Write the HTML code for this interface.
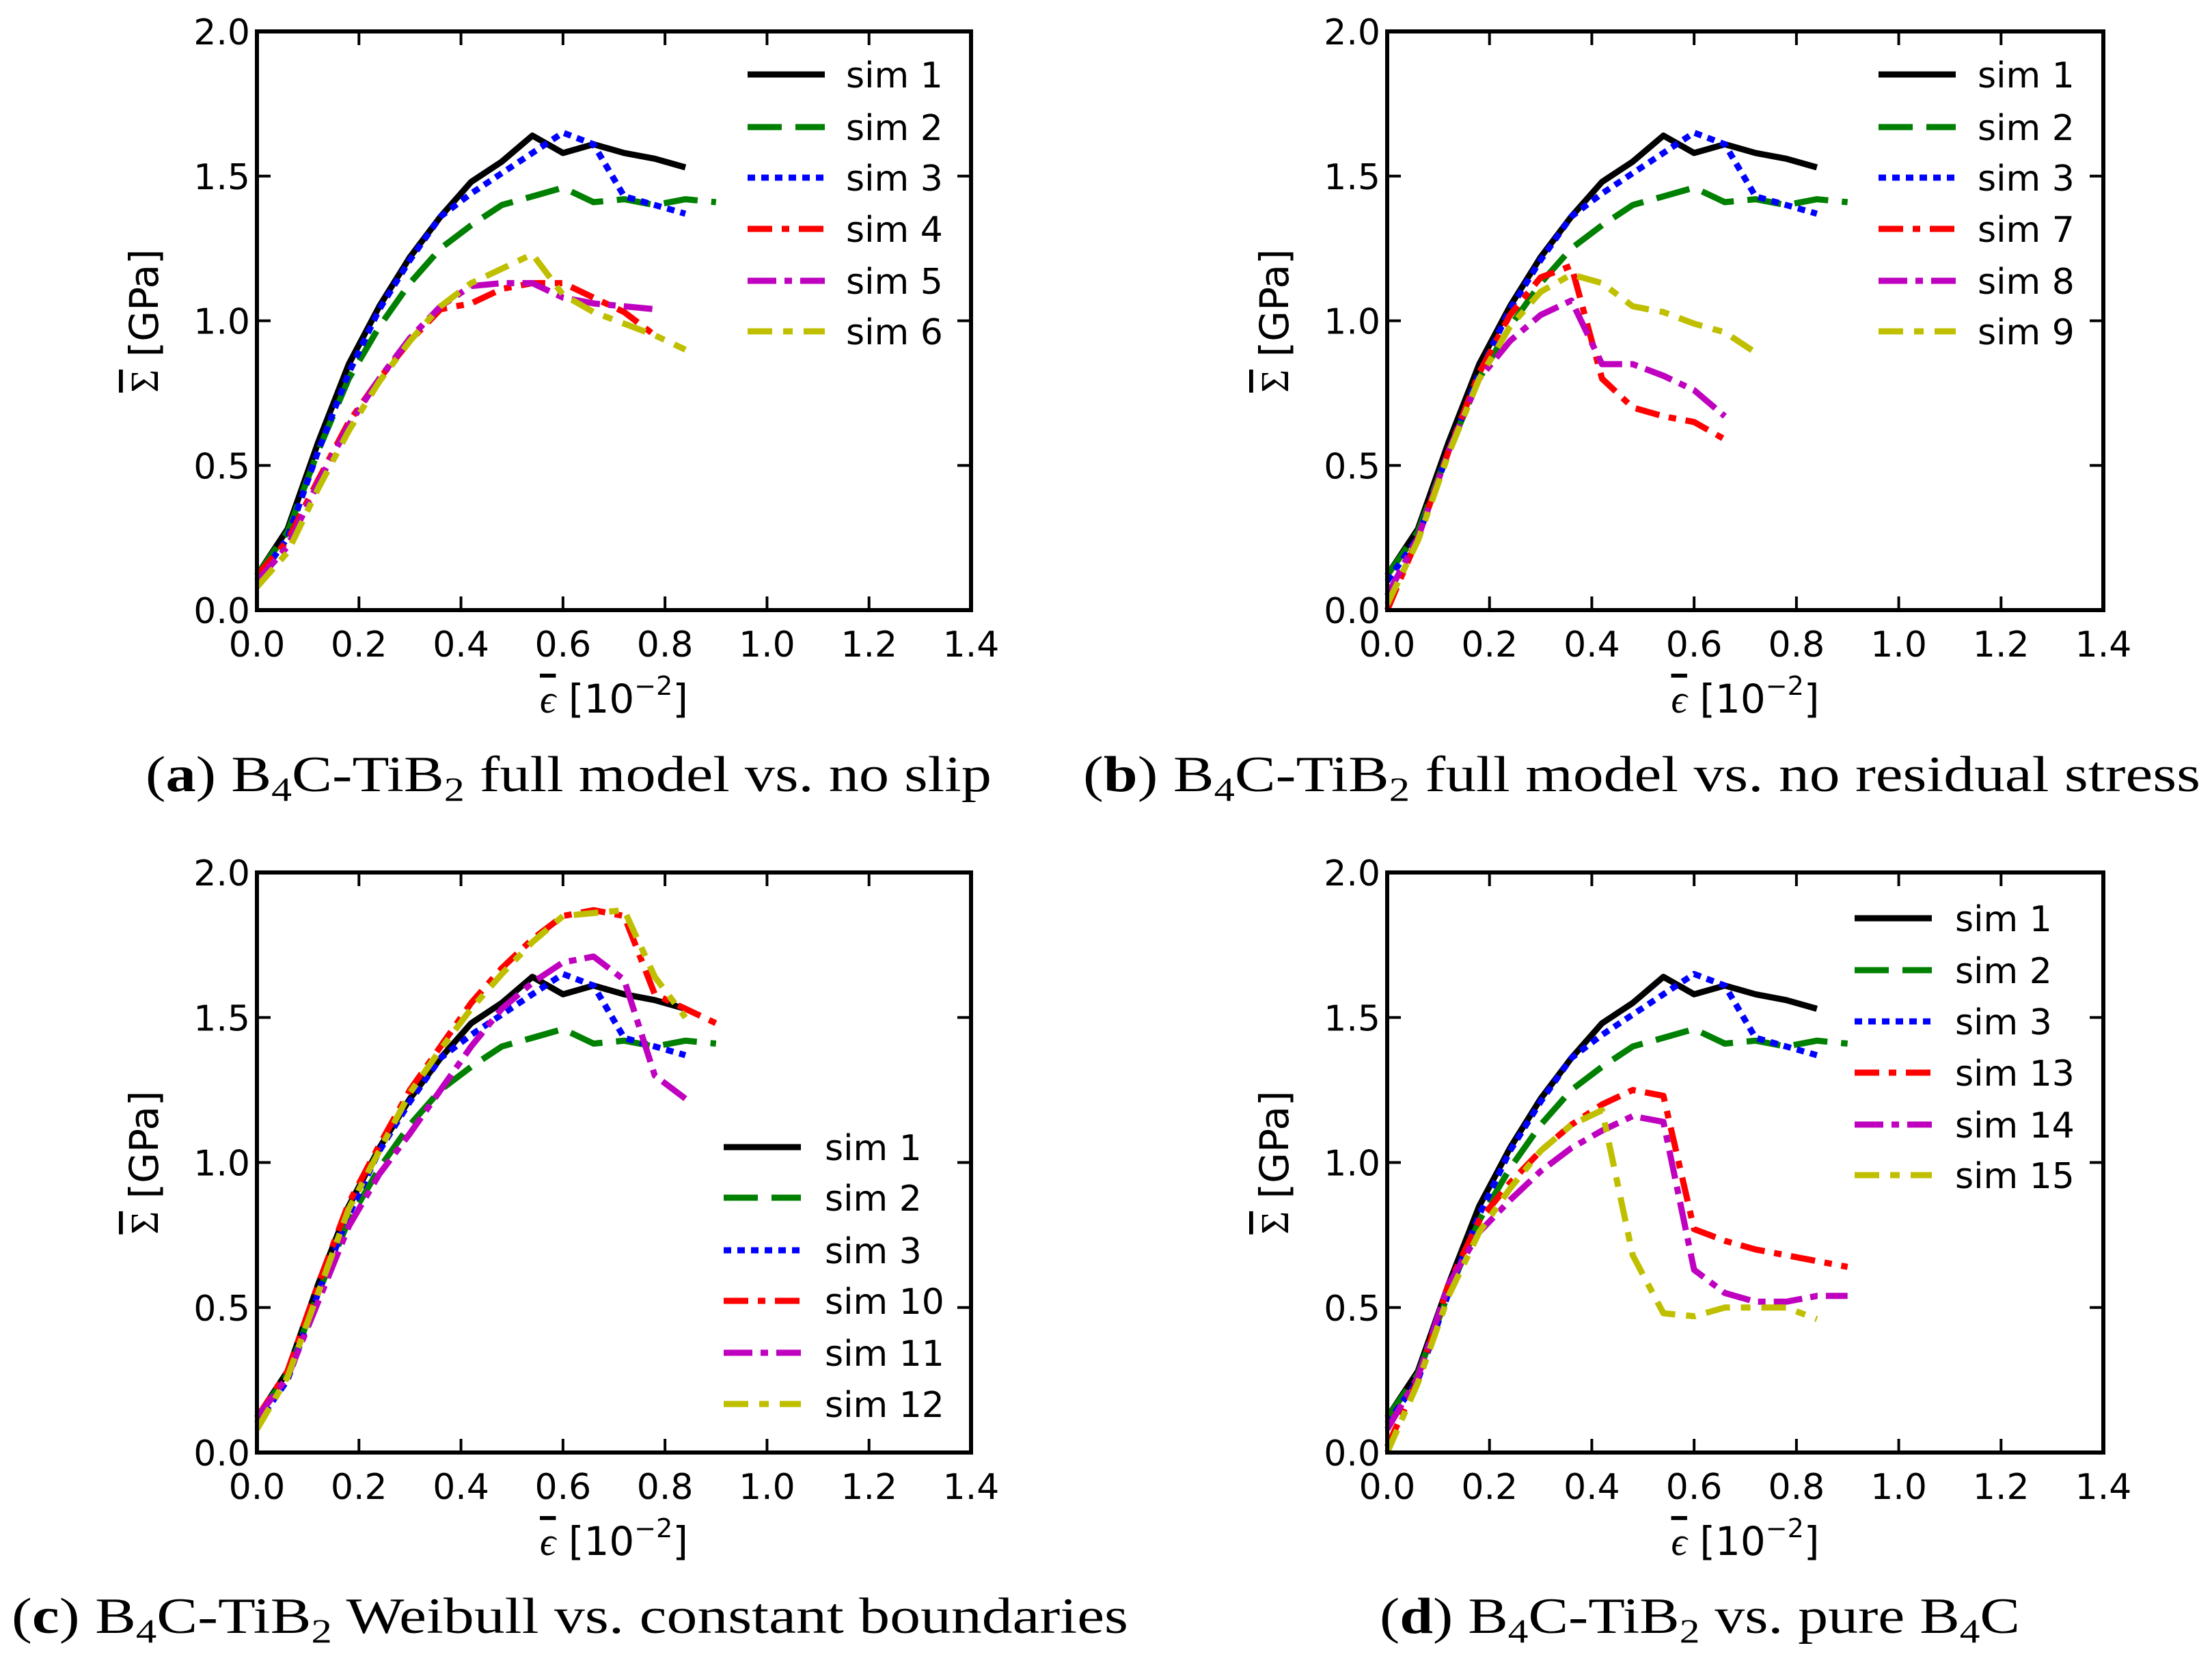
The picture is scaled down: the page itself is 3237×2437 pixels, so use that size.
<!DOCTYPE html>
<html><head><meta charset="utf-8"><style>
html,body{margin:0;padding:0;background:#fff;}
svg{display:block;}
text{font-family:"DejaVu Sans","Liberation Sans",sans-serif;}
.cap{font-family:"Liberation Serif",serif;font-size:74px;}
</style></head><body>
<svg id="fig" width="3237" height="2437" viewBox="0 0 3237 2437" xmlns="http://www.w3.org/2000/svg">
<text class="cap" x="213" y="1158" textLength="1238" lengthAdjust="spacingAndGlyphs">(<tspan font-weight="bold">a</tspan>) B<tspan font-size="50" dy="14">4</tspan><tspan dy="-14">C-TiB</tspan><tspan font-size="50" dy="14">2</tspan><tspan dy="-14"> full model vs. no slip</tspan></text>
<text class="cap" x="1585" y="1158" textLength="1635" lengthAdjust="spacingAndGlyphs">(<tspan font-weight="bold">b</tspan>) B<tspan font-size="50" dy="14">4</tspan><tspan dy="-14">C-TiB</tspan><tspan font-size="50" dy="14">2</tspan><tspan dy="-14"> full model vs. no residual stress</tspan></text>
<text class="cap" x="17" y="2390" textLength="1634" lengthAdjust="spacingAndGlyphs">(<tspan font-weight="bold">c</tspan>) B<tspan font-size="50" dy="14">4</tspan><tspan dy="-14">C-TiB</tspan><tspan font-size="50" dy="14">2</tspan><tspan dy="-14"> Weibull vs. constant boundaries</tspan></text>
<text class="cap" x="2019" y="2390" textLength="937" lengthAdjust="spacingAndGlyphs">(<tspan font-weight="bold">d</tspan>) B<tspan font-size="50" dy="14">4</tspan><tspan dy="-14">C-TiB</tspan><tspan font-size="50" dy="14">2</tspan><tspan dy="-14"> vs. pure B</tspan><tspan font-size="50" dy="14">4</tspan><tspan dy="-14">C</tspan></text>
</svg>
<script>
const strain = [0,0.06,0.12,0.18,0.24,0.30,0.36,0.42,0.48,0.54,0.60,0.66,0.72,0.78,0.84,0.90];
const xTicks = [0.0,0.2,0.4,0.6,0.8,1.0,1.2,1.4];
const xTickLabels = ["0.0","0.2","0.4","0.6","0.8","1.0","1.2","1.4"];
const yTicks = [0.0,0.5,1.0,1.5,2.0];
const yTickLabels = ["0.0","0.5","1.0","1.5","2.0"];
const sim1 = [0.12,0.28,0.58,0.85,1.05,1.22,1.36,1.48,1.55,1.64,1.58,1.61,1.58,1.56,1.53];
const sim2 = [0.12,0.27,0.55,0.80,0.98,1.13,1.25,1.33,1.40,1.43,1.46,1.41,1.42,1.40,1.42,1.41];
const sim3 = [0.10,0.25,0.55,0.82,1.04,1.21,1.36,1.44,1.51,1.58,1.65,1.61,1.43,1.40,1.37];
const sim4 = [0.12,0.24,0.45,0.65,0.80,0.93,1.04,1.06,1.11,1.13,1.13,1.08,1.03,0.95];
const sim5 = [0.10,0.22,0.44,0.64,0.80,0.94,1.05,1.12,1.13,1.13,1.08,1.06,1.05,1.04];
const sim6 = [0.08,0.20,0.42,0.62,0.79,0.93,1.05,1.13,1.18,1.23,1.09,1.03,0.99,0.95,0.90];
const sim7 = [0.00,0.25,0.55,0.82,1.02,1.15,1.19,0.80,0.70,0.67,0.65,0.59];
const sim8 = [0.05,0.25,0.55,0.80,0.93,1.02,1.07,0.85,0.85,0.81,0.76,0.67];
const sim9 = [0.02,0.24,0.54,0.80,0.98,1.10,1.16,1.13,1.05,1.03,0.99,0.96,0.89];
const sim10 = [0.12,0.28,0.58,0.86,1.06,1.25,1.40,1.55,1.67,1.77,1.85,1.87,1.85,1.58,1.53,1.48];
const sim11 = [0.12,0.26,0.52,0.78,0.96,1.10,1.25,1.40,1.53,1.62,1.69,1.71,1.63,1.30,1.22];
const sim12 = [0.08,0.26,0.55,0.84,1.04,1.24,1.39,1.53,1.65,1.76,1.85,1.86,1.87,1.64,1.50];
const sim13 = [0.02,0.25,0.58,0.80,0.93,1.04,1.13,1.20,1.25,1.23,0.77,0.73,0.70,0.68,0.66,0.64];
const sim14 = [0.08,0.26,0.58,0.76,0.87,0.97,1.05,1.11,1.16,1.14,0.63,0.55,0.52,0.52,0.54,0.54];
const sim15 = [0.00,0.24,0.54,0.76,0.91,1.04,1.13,1.18,0.68,0.48,0.47,0.50,0.50,0.50,0.46];

const NS="http://www.w3.org/2000/svg";
const svg=document.getElementById('fig');
function mk(tag,attrs,parent){const e=document.createElementNS(NS,tag);for(const k in attrs)e.setAttribute(k,attrs[k]);(parent||svg).appendChild(e);return e;}
const styles={
 sim1:{c:"#000000",d:""}, sim2:{c:"#008000",d:"50 20"}, sim3:{c:"#0000ff",d:"11 9"},
 sim4:{c:"#ff0000",d:"36 14 11 14"}, sim5:{c:"#bf00bf",d:"42 12 11 12"}, sim6:{c:"#bfbf00",d:"36 16 14 16"},
 sim7:{c:"#ff0000",d:"36 14 11 14"}, sim8:{c:"#bf00bf",d:"42 12 11 12"}, sim9:{c:"#bfbf00",d:"36 16 14 16"},
 sim10:{c:"#ff0000",d:"36 14 11 14"}, sim11:{c:"#bf00bf",d:"42 12 11 12"}, sim12:{c:"#bfbf00",d:"36 16 14 16"},
 sim13:{c:"#ff0000",d:"36 14 11 14"}, sim14:{c:"#bf00bf",d:"42 12 11 12"}, sim15:{c:"#bfbf00",d:"36 16 14 16"}
};
const data={sim1,sim2,sim3,sim4,sim5,sim6,sim7,sim8,sim9,sim10,sim11,sim12,sim13,sim14,sim15};
const panels=[
 {id:"a",L:376,R:1421,T:46,B:893,sims:["sim1","sim2","sim3","sim4","sim5","sim6"],lx:1094,ltx:1238,ly:[109,186,260,335,411,485]},
 {id:"b",L:2030,R:3078,T:46,B:893,sims:["sim1","sim2","sim3","sim7","sim8","sim9"],lx:2749,ltx:2894,ly:[109,186,260,335,411,485]},
 {id:"c",L:376,R:1421,T:1277,B:2126,sims:["sim1","sim2","sim3","sim10","sim11","sim12"],lx:1059,ltx:1207,ly:[1679,1753,1830,1904,1980,2055]},
 {id:"d",L:2030,R:3078,T:1277,B:2126,sims:["sim1","sim2","sim3","sim13","sim14","sim15"],lx:2714,ltx:2861,ly:[1344,1420,1495,1570,1646,1720]}
];
panels.forEach(p=>{
 const g=mk('g',{});
 
 
 const xs=v=>p.L+(v/1.4)*(p.R-p.L);
 const ys=v=>p.B-(v/2.0)*(p.B-p.T);
 p.sims.forEach(s=>{
  const vals=data[s];
  const pts=vals.map((v,i)=>xs(strain[i]).toFixed(1)+","+ys(v).toFixed(1)).join(" ");
  const pl=mk('polyline',{points:pts,fill:"none",stroke:styles[s].c,"stroke-width":9,"stroke-linejoin":"round"},g);
  if(styles[s].d)pl.setAttribute('stroke-dasharray',styles[s].d);
  
  
 });
 const fr=mk('rect',{x:p.L,y:p.T,width:p.R-p.L,height:p.B-p.T,fill:"none",stroke:"#000","stroke-width":6},g);
 
 
 xTicks.forEach((t,i)=>{
  const x=xs(t);
  mk('line',{x1:x,y1:p.B,x2:x,y2:p.B-20,stroke:"#000","stroke-width":4},g);
  mk('line',{x1:x,y1:p.T,x2:x,y2:p.T+20,stroke:"#000","stroke-width":4},g);
  const tx=mk('text',{x:x,y:p.B+68,"font-size":52,"text-anchor":"middle"},g);
  tx.textContent=xTickLabels[i];
  
  
 });
 yTicks.forEach((t,i)=>{
  const y=ys(t);
  mk('line',{x1:p.L,y1:y,x2:p.L+20,y2:y,stroke:"#000","stroke-width":4},g);
  mk('line',{x1:p.R,y1:y,x2:p.R-20,y2:y,stroke:"#000","stroke-width":4},g);
  const tx=mk('text',{x:p.L-10,y:y+19,"font-size":52,"text-anchor":"end"},g);
  tx.textContent=yTickLabels[i];
  
  
 });
 const cx=(p.L+p.R)/2;
 const xt=mk('text',{x:cx,y:p.B+150,"font-size":58,"text-anchor":"middle"},g);
 xt.innerHTML='<tspan font-family="Liberation Serif,serif" font-style="italic" style="text-decoration:overline">ϵ</tspan> [10<tspan font-size="38" dy="-26">−2</tspan><tspan dy="26">]</tspan>';
 
 
 const cy=(p.T+p.B)/2;
 const yt=mk('text',{x:p.L-145,y:cy,"font-size":58,"text-anchor":"middle",transform:"rotate(-90 "+(p.L-145)+" "+cy+")"},g);
 yt.innerHTML='<tspan font-family="Liberation Serif,serif" style="text-decoration:overline">Σ</tspan> [GPa]';
 
 
 p.sims.forEach((s,i)=>{
  const y=p.ly[i];
  const ln=mk('line',{x1:p.lx,y1:y,x2:p.lx+113,y2:y,stroke:styles[s].c,"stroke-width":9},g);
  if(styles[s].d)ln.setAttribute('stroke-dasharray',styles[s].d);
  
  
  const lt=mk('text',{x:p.ltx,y:y+19,"font-size":52},g);
  lt.textContent=s.replace('sim','sim ');
  
  
 });
});
</script>
</body></html>
